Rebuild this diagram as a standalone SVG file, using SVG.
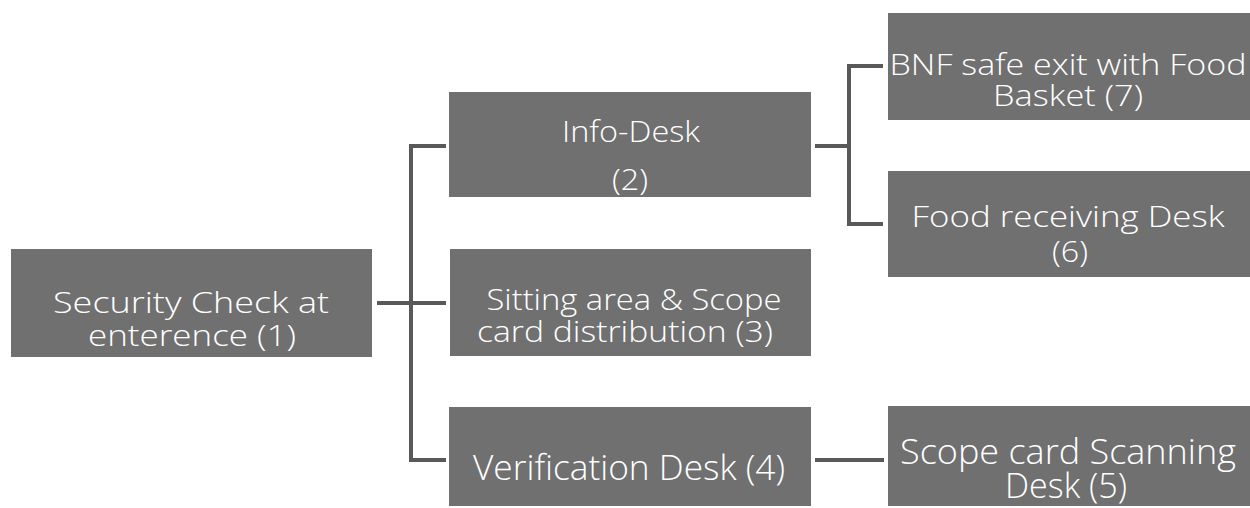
<svg xmlns="http://www.w3.org/2000/svg" width="1250" height="508" viewBox="0 0 1250 508">
  <style>
    .box { fill: #707070; }
    .lbl { fill: #ffffff; font-family: "Open Sans", "DejaVu Sans", sans-serif; font-weight: 300; font-size: 29px; text-anchor: middle; }
    .tall { font-size: 34px; }
    .wire { fill: none; stroke: #595959; stroke-width: 4; }
  </style>
  <rect width="1250" height="508" fill="#ffffff"/>

  <!-- elbow connectors between the stations -->
  <g id="connectors">
    <path class="wire" d="M377 303 H446"/>
    <path class="wire" d="M446 146 H411 V460 H446"/>
    <path class="wire" d="M815 146 H849"/>
    <path class="wire" d="M883 66 H849 V224 H883"/>
    <path class="wire" d="M815 460 H884"/>
  </g>

  <g id="node-1">
    <rect class="box" x="11" y="249" width="361" height="108"/>
    <text class="lbl" x="191" y="313" textLength="276" lengthAdjust="spacingAndGlyphs">Security Check at</text>
    <text class="lbl" x="192" y="346" textLength="208" lengthAdjust="spacingAndGlyphs">enterence (1)</text>
  </g>

  <g id="node-2">
    <rect class="box" x="449" y="92" width="362" height="105"/>
    <text class="lbl" x="631" y="142" textLength="138" lengthAdjust="spacingAndGlyphs">Info-Desk</text>
    <text class="lbl" x="630" y="190" textLength="36" lengthAdjust="spacingAndGlyphs">(2)</text>
  </g>

  <g id="node-3">
    <rect class="box" x="450" y="249" width="361" height="107"/>
    <text class="lbl" x="634" y="310" textLength="295" lengthAdjust="spacingAndGlyphs">Sitting area &amp; Scope</text>
    <text class="lbl" x="625" y="342" textLength="296" lengthAdjust="spacingAndGlyphs">card distribution (3)</text>
  </g>

  <g id="node-4">
    <rect class="box" x="449" y="407" width="362" height="99"/>
    <text class="lbl tall" x="629" y="480" textLength="312" lengthAdjust="spacingAndGlyphs">Verification Desk (4)</text>
  </g>

  <g id="node-5">
    <rect class="box" x="888" y="406" width="362" height="100"/>
    <text class="lbl tall" x="1068" y="464" textLength="336" lengthAdjust="spacingAndGlyphs">Scope card Scanning</text>
    <text class="lbl tall" x="1066" y="498" textLength="122" lengthAdjust="spacingAndGlyphs">Desk (5)</text>
  </g>

  <g id="node-6">
    <rect class="box" x="888" y="171" width="362" height="106"/>
    <text class="lbl" x="1068" y="227" textLength="313" lengthAdjust="spacingAndGlyphs">Food receiving Desk</text>
    <text class="lbl" x="1070" y="262" textLength="36" lengthAdjust="spacingAndGlyphs">(6)</text>
  </g>

  <g id="node-7">
    <rect class="box" x="888" y="13" width="362" height="107"/>
    <text class="lbl" x="1068" y="75" textLength="357" lengthAdjust="spacingAndGlyphs">BNF safe exit with Food</text>
    <text class="lbl" x="1068" y="106" textLength="150" lengthAdjust="spacingAndGlyphs">Basket (7)</text>
  </g>
</svg>
